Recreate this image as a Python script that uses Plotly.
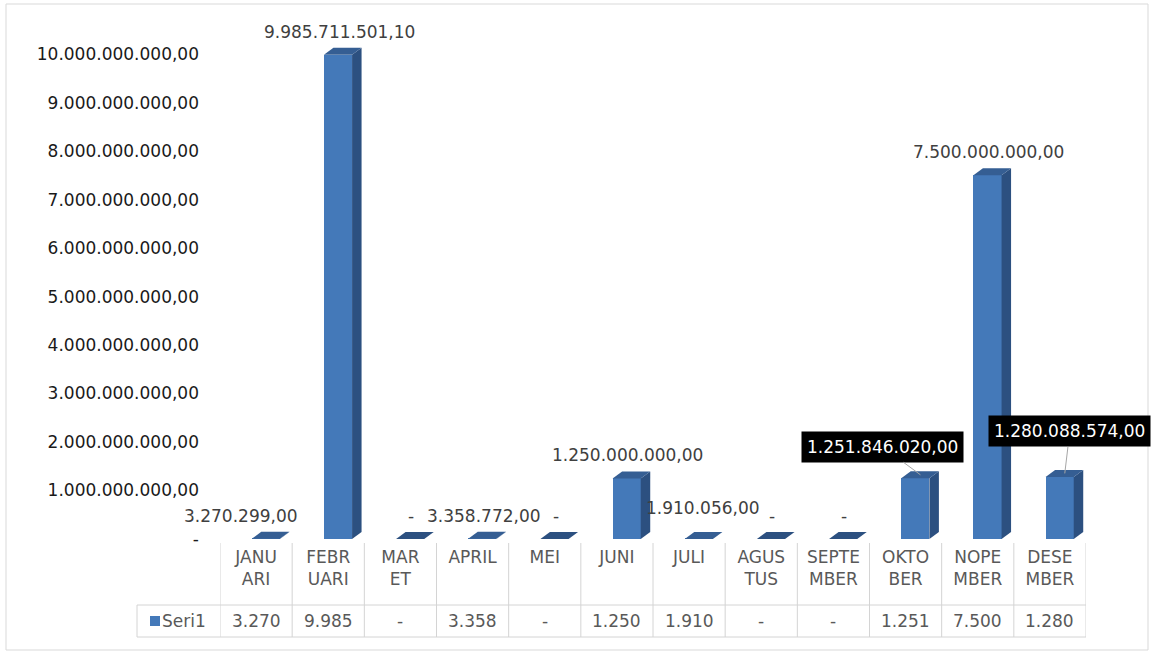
import plotly.graph_objects as go

# ---------------- data ----------------
months = ["JANUARI", "FEBRUARI", "MARET", "APRIL", "MEI", "JUNI", "JULI",
          "AGUSTUS", "SEPTEMBER", "OKTOBER", "NOPEMBER", "DESEMBER"]
month_labels = ["JANU<br>ARI", "FEBR<br>UARI", "MAR<br>ET", "APRIL<br> ", "MEI<br> ",
                "JUNI<br> ", "JULI<br> ", "AGUS<br>TUS", "SEPTE<br>MBER", "OKTO<br>BER",
                "NOPE<br>MBER", "DESE<br>MBER"]
values = [3270299.00, 9985711501.10, 0, 3358772.00, 0, 1250000000.00, 1910056.00,
          0, 0, 1251846020.00, 7500000000.00, 1280088574.00]
series_name = "Seri1"
y_ticks = [i * 1e9 for i in range(0, 11)]
boxed_labels = [9, 11]          # indices of labels drawn in black boxes

# ---------------- styles ----------------
FONT = "DejaVu Sans"
FRONT = "#4479B9"
SIDE = "#2C5080"
TOP = "#355E93"
GRID = "#D4D4D4"
FS = 17

def fmt(v):
    if v == 0:
        return "-"
    s = f"{v:,.2f}"
    return s.replace(",", "X").replace(".", ",").replace("X", ".")

W, H = 1156, 654
ML, MR, MT, MB = 220, 70, 25, 115
PW, PH = W - ML - MR, H - MT - MB
YMAX = 1.06e10
px_per_val = PH / YMAX
px_per_cat = PW / 12.0

def py(p):  # pixel y -> paper y
    return (H - MB - p) / PH

def px(p):  # pixel x -> paper x
    return (p - ML) / PW

idx = list(range(len(months)))
bar_off, bar_w = -0.06, 0.39
dx = 9.5 / px_per_cat
dy = 7 / px_per_val

fig = go.Figure()
fig.add_trace(go.Bar(x=idx, y=values, offset=bar_off, width=bar_w,
                     marker=dict(color=FRONT, line=dict(width=0)),
                     name=series_name, showlegend=False, hoverinfo="skip"))

shapes = []
for i, v in zip(idx, values):
    x0 = i + bar_off
    x1 = x0 + bar_w
    # side face
    if v > 0:
        shapes.append(dict(type="path", xref="x", yref="y", layer="above",
                           path=f"M {x1},0 L {x1+dx},{dy} L {x1+dx},{v+dy} L {x1},{v} Z",
                           fillcolor=SIDE, line=dict(width=0)))
    # top face
    shapes.append(dict(type="path", xref="x", yref="y", layer="above",
                       path=f"M {x0},{v} L {x0+dx},{v+dy} L {x1+dx},{v+dy} L {x1},{v} Z",
                       fillcolor=TOP if v > 0 else SIDE, line=dict(width=0)))

# table lines
y_tab_top, y_row_top, y_row_bot = py(543), py(605), py(637)
for k in range(13):
    shapes.append(dict(type="line", xref="x", yref="paper", x0=k - 0.5, x1=k - 0.5,
                       y0=y_tab_top, y1=y_row_bot, line=dict(color=GRID, width=1)))
for yy in (y_row_top, y_row_bot):
    shapes.append(dict(type="line", xref="paper", yref="paper", x0=px(137), x1=1,
                       y0=yy, y1=yy, line=dict(color=GRID, width=1)))
shapes.append(dict(type="line", xref="paper", yref="paper", x0=px(137), x1=px(137),
                   y0=y_row_top, y1=y_row_bot, line=dict(color=GRID, width=1)))
# legend key square in table
shapes.append(dict(type="rect", xref="paper", yref="paper", x0=px(150), x1=px(160),
                   y0=py(626), y1=py(616), fillcolor=FRONT, line=dict(width=0)))
# outer chart border
shapes.append(dict(type="rect", xref="paper", yref="paper", x0=px(6), x1=px(1148),
                   y0=py(650), y1=py(4), line=dict(color="#D9D9D9", width=1)))

annotations = []
label_tweak = {0: (-26, 0), 6: (3, 8)}   # (xshift px, extra yshift px)
for i, v in zip(idx, values):
    if i in boxed_labels:
        continue
    xs, ys = label_tweak.get(i, (0, 0))
    annotations.append(dict(x=i + 0.153, y=v, xref="x", yref="y", text=fmt(v),
                            showarrow=False, yshift=23 + ys, xshift=xs,
                            xanchor="center", yanchor="middle",
                            font=dict(family=FONT, size=FS, color="#404040")))
box_offsets = {9: (-38, -28), 11: (5, -42)}
for i in boxed_labels:
    v = values[i]
    ax, ay = box_offsets[i]
    annotations.append(dict(x=i + bar_off + bar_w / 2 + dx / 2 + 0.005, y=v + dy / 2,
                            xref="x", yref="y", text=fmt(v), showarrow=True,
                            arrowhead=0, arrowwidth=1, arrowcolor="#A6A6A6",
                            ax=ax, ay=ay, bgcolor="#000000", borderpad=5,
                            font=dict(family=FONT, size=FS, color="#FFFFFF")))
# table row
for i, v in zip(idx, values):
    annotations.append(dict(x=i, y=py(621), xref="x", yref="paper",
                            text=fmt(v)[:5], showarrow=False,
                            xanchor="center", yanchor="middle",
                            font=dict(family=FONT, size=FS, color="#595959")))
annotations.append(dict(x=px(184), y=py(621), xref="paper", yref="paper",
                        text=series_name, showarrow=False,
                        xanchor="center", yanchor="middle",
                        font=dict(family=FONT, size=FS, color="#595959")))

fig.update_layout(
    width=W, height=H,
    margin=dict(l=ML, r=MR, t=MT, b=MB),
    paper_bgcolor="white", plot_bgcolor="white",
    shapes=shapes, annotations=annotations,
    bargap=0,
    xaxis=dict(range=[-0.5, 11.5], tickmode="array", tickvals=idx,
               ticktext=month_labels, showgrid=False, zeroline=False,
               showline=False, ticks="", ticklabelstandoff=6,
               tickfont=dict(family=FONT, size=FS, color="#595959")),
    yaxis=dict(range=[0, YMAX], tickmode="array", tickvals=y_ticks,
               ticktext=[fmt(t) for t in y_ticks], showgrid=False,
               zeroline=False, showline=False, ticks="", ticklabelstandoff=20,
               tickfont=dict(family=FONT, size=FS, color="#1A1A1A")),
)

fig.write_html("out.html", config={"displayModeBar": False},
               post_script="document.body.style.margin='0';document.body.style.overflow='hidden';")
